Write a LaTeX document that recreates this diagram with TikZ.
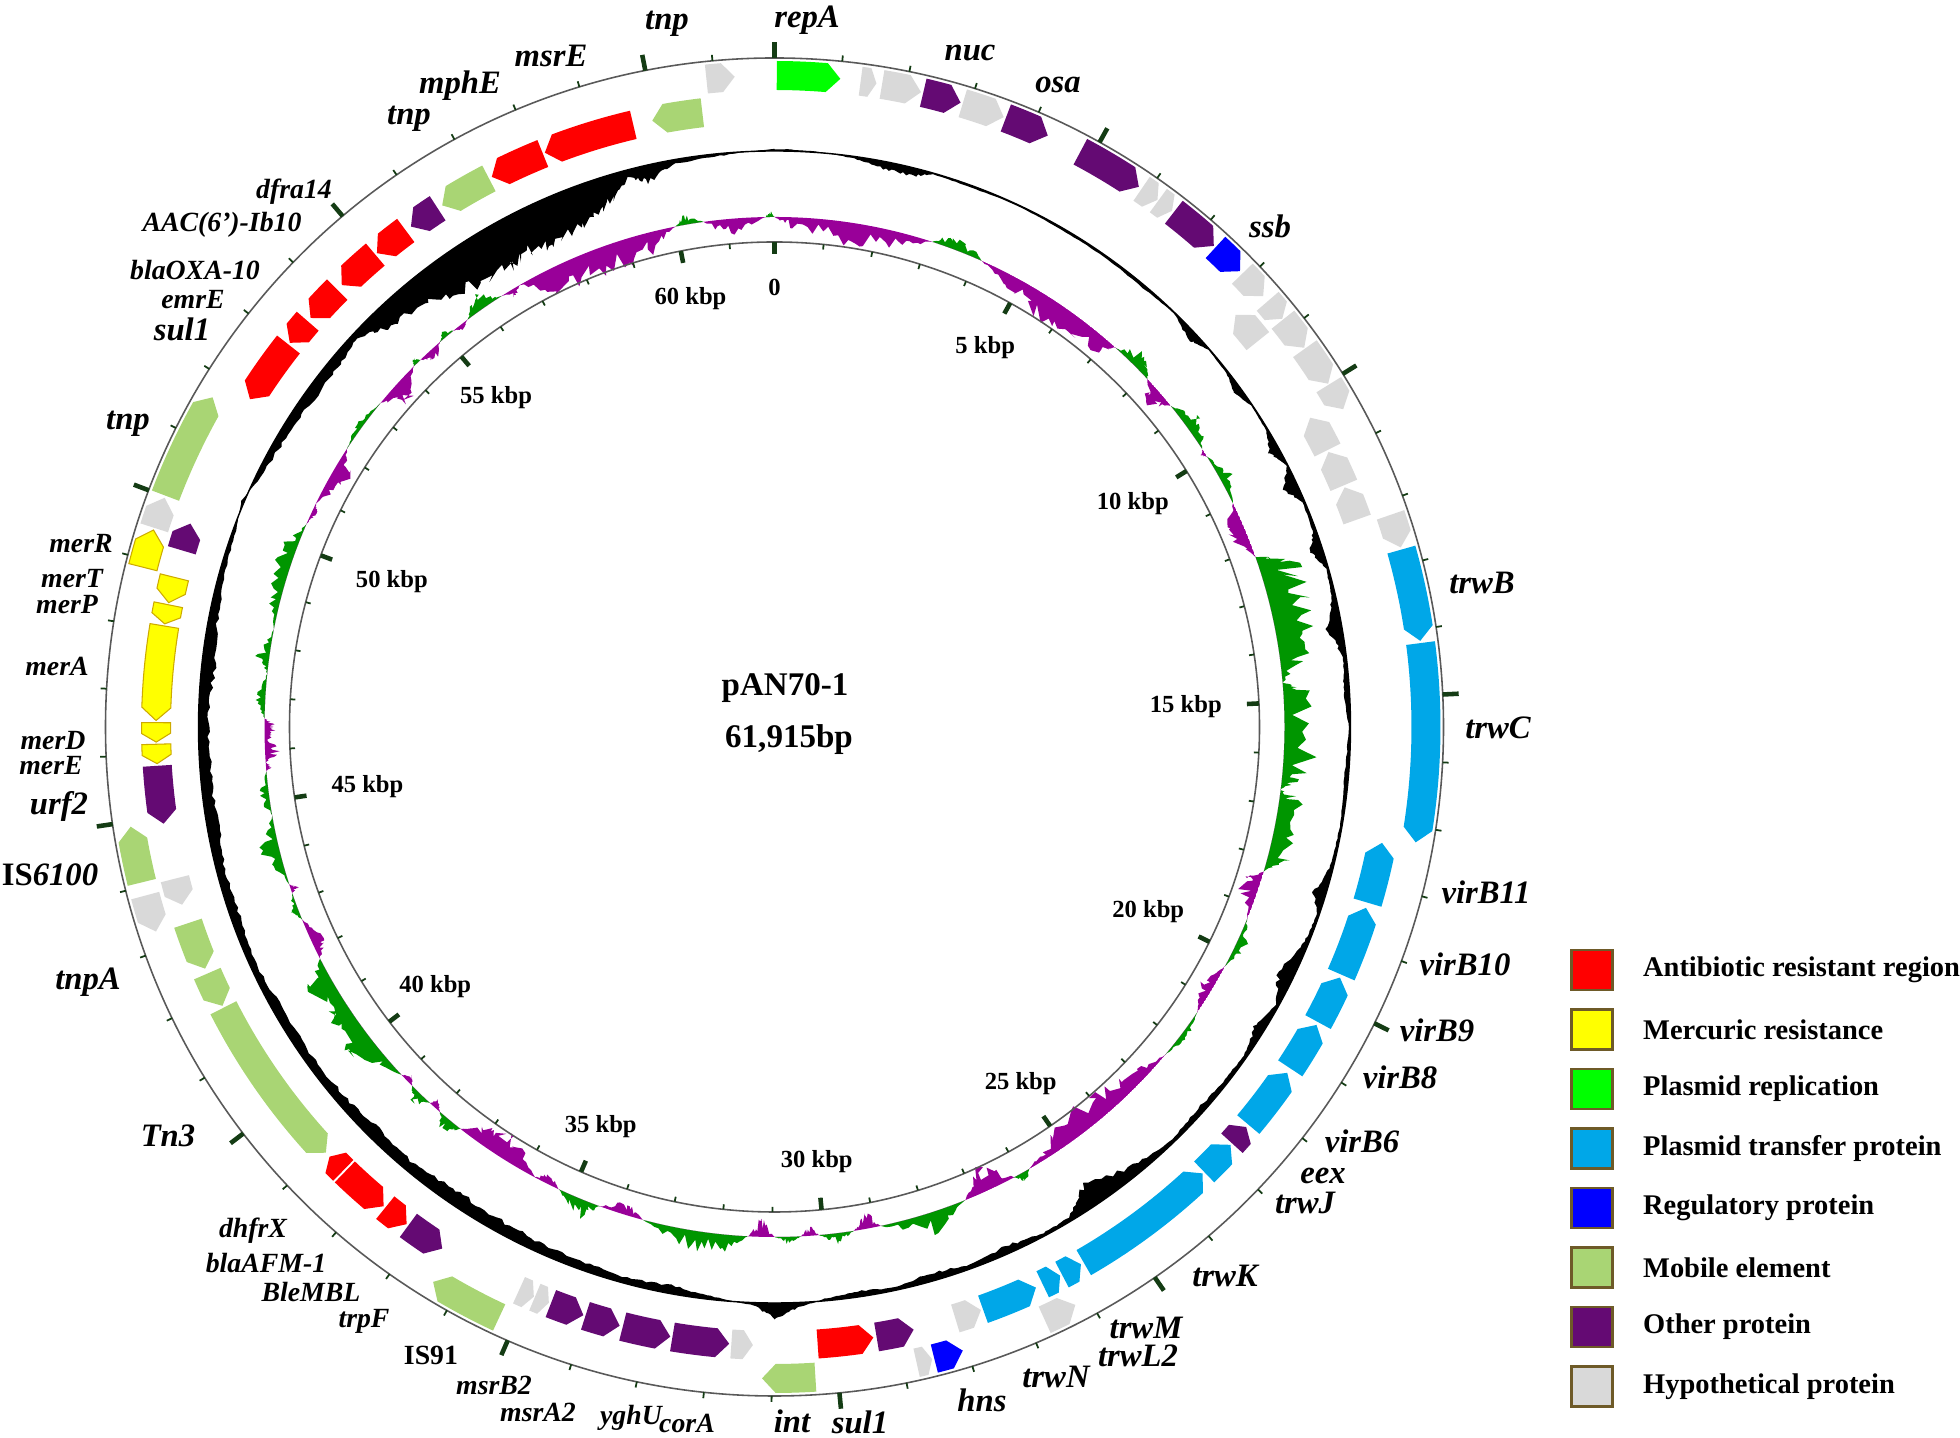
\documentclass[tikz,border=0pt]{standalone}
\usepackage{fontspec}
\setmainfont{Liberation Serif}
\usetikzlibrary{positioning}
\definecolor{cAntib}{RGB}{255,0,0}
\definecolor{cMerc}{RGB}{255,255,0}
\definecolor{cMercBd}{RGB}{205,170,0}
\definecolor{cRepl}{RGB}{0,255,0}
\definecolor{cTrans}{RGB}{0,167,232}
\definecolor{cRegu}{RGB}{0,0,255}
\definecolor{cMobile}{RGB}{169,213,116}
\definecolor{cOther}{RGB}{100,10,115}
\definecolor{cHypo}{RGB}{217,217,217}
\definecolor{cSkewP}{RGB}{0,150,0}
\definecolor{cSkewN}{RGB}{153,0,153}
\definecolor{cTick}{RGB}{20,60,20}
\definecolor{cLegBd}{RGB}{110,90,40}
\tikzset{
  glab/.style={inner sep=0pt, font=\fontsize{9.3}{11}\selectfont\bfseries\itshape},
  glabs/.style={inner sep=0pt, font=\fontsize{7.9}{9}\selectfont\bfseries\itshape},
  klab/.style={inner sep=1pt, font=\fontsize{7}{8}\selectfont\bfseries},
  ctitle/.style={inner sep=0pt, font=\fontsize{9.4}{11}\selectfont\bfseries},
  mapline/.style={draw=black!65, line width=0.45pt},
  tickmaj/.style={draw=cTick, line width=1.3pt},
  tickmin/.style={draw=cTick, line width=0.5pt},
  mergene/.style={draw=cMercBd, line width=0.3pt},
  legbox/.style={draw=cLegBd, line width=0.8pt, minimum width=4.1mm, minimum height=4mm, inner sep=0pt},
  legtxt/.style={inner sep=0pt, font=\fontsize{8.1}{9}\selectfont\bfseries}
}
\newcommand{\lenbp}{61.915}
\newcommand{\laneO}{6.37}
\newcommand{\laneI}{6.04}
% gene arrow: [extra]{start}{end}{lane radius}{dir}{colour}, angles clockwise from 0 bp
\newcommand{\gene}[6][]{%
  \pgfmathsetmacro\ggA{90-#2}%
  \pgfmathsetmacro\ggB{90-#3}%
  \pgfmathsetmacro\ggH{min(1.2,0.45*(#3-#2))}%
  \pgfmathsetmacro\ggM{#4+0.145}%
  \pgfmathsetmacro\ggT{#4+0.29}%
  \ifnum#5>0
    \pgfmathsetmacro\ggC{\ggB+\ggH}%
    \fill[fill=#6,#1] (\ggA:#4) arc[start angle=\ggA, end angle=\ggC, radius=#4]
      -- (\ggB:\ggM) -- (\ggC:\ggT) arc[start angle=\ggC, end angle=\ggA, radius=\ggT] -- cycle;
  \else
    \pgfmathsetmacro\ggC{\ggA-\ggH}%
    \fill[fill=#6,#1] (\ggC:#4) arc[start angle=\ggC, end angle=\ggB, radius=#4]
      -- (\ggB:\ggT) arc[start angle=\ggB, end angle=\ggC, radius=\ggT] -- (\ggA:\ggM) -- cycle;
  \fi}
% profile ring: {baseline}{angle/value list}{noise spread}
\newcommand{\ringpath}[3]{(90:#1)
  \foreach \pa/\pv [remember=\pa as \pap (initially 0), remember=\pv as \pvp (initially 0)] in #2 {
    \foreach \k in {1,...,10} {
      -- ({90-(\pap+((\pa)-(\pap))*\k/10)}:{#1+(\pvp+((\pv)-(\pvp))*\k/10)*(1-#3/2+#3*rnd)/100})
    }
  } -- cycle}
\newcommand{\skewdata}{0/0, 2/-8, 8/-15, 14/-12, 18/0, 20/10, 23/6, 24/0, 28/-12, 34/-20, 40/-14, 42/0, 45/14, 47/0, 49/-16, 51/0, 54/14, 57/0, 57.5/-4, 58/0, 61/10, 64/0, 67/-18, 70.5/0, 72/28, 77/30, 82/22, 85/0, 86/18, 95/22, 97/0, 98/16, 104/18, 106.5/0, 108/-16, 112/0, 115/8, 118/0, 121/-10, 124/0, 127/6, 130/0, 134/-12, 140/-20, 146/-14, 150/0, 151/8, 152/0, 155/-22, 158/0, 162/18, 168/0, 169.5/-12, 171/0, 173/8, 175/0, 176/-8, 177/0, 178.5/5, 180/0, 181.5/-14, 183/0, 186/15, 190/12, 195/0, 197/-10, 200/0, 202/14, 205/0, 206.5/-8, 208/0, 212/-20, 215/-16, 218/0, 219.5/12, 221/0, 222/-6, 222.5/0, 224/10, 225.3/0, 226/-6, 227/0, 232/22, 236/18, 240/20, 243/0, 245/-12, 247.8/0, 249/6, 251/0, 251.5/-6, 252/0, 256/15, 260/0, 262/8, 265/0, 265.5/-5, 266/0, 267/-10, 269/-4, 270/-10, 271/0, 273/8, 276/0, 278/10, 281/0, 285/10, 290/12, 293.5/0, 295/-4, 296/0, 300/-15, 303/0, 306/5, 309.5/0, 312/-18, 315/0, 315.5/6, 316/0, 317.5/-8, 319/0, 320/5, 321/0, 322/-4, 323/0, 325/12, 327.7/0, 329/-6, 330/0, 334/-22, 340/-20, 345/-18, 348.8/0, 350/8, 352/0, 355/-15, 359/0, 359.5/5, 360/0}
\newcommand{\gcdata}{0/2, 4/1, 8/-2, 11/-7, 14/-8, 16/-1, 20/-2, 25/-1, 30/-2, 35/-2, 40/-3, 44/-1, 47/-9, 49/-1, 52/-2, 54/-8, 56/-1, 59/-2, 61/-10, 63/-1, 65/-14, 67/-2, 70/-3, 72/-12, 74/-2, 77/-4, 80/-14, 83/-3, 86/-6, 90/-2, 95/-4, 100/-2, 104/-3, 107/-12, 109/-2, 112/-4, 116/-16, 119/-3, 122/-10, 125/-3, 128/-4, 132/-6, 136/-3, 140/-8, 146/-22, 149/-4, 152/-3, 156/-8, 160/-4, 164/-8, 168/-3, 172/-6, 175/-2, 178/6, 180/14, 182/3, 186/-3, 190/-8, 195/-6, 200/-8, 205/-10, 210/-12, 215/-14, 220/-10, 225/-12, 230/-9, 235/-8, 240/-10, 245/-6, 250/-9, 255/-8, 260/-11, 265/-12, 270/-10, 275/-13, 280/-10, 285/-6, 290/-3, 293/3, 296/-5, 300/-8, 305/-11, 310/-10, 313/-6, 316/-20, 320/-28, 325/-40, 330/-46, 333/-40, 336/-44, 340/-36, 343/-24, 345/-8, 347/-16, 350/-4, 355/-2, 360/2}

\begin{document}
\begin{tikzpicture}
\useasboundingbox (0,0) rectangle (19.6,14.38);
\pgfmathsetseed{11}
\coordinate (ori) at (7.745,7.11);
\begin{scope}[shift={(ori)}]
  % GC skew
  \begin{scope}
    \clip (0,0) circle (5.60) (5.10,0) arc[start angle=0, end angle=-360, radius=5.10];
    \fill[cSkewP] \ringpath{5.10}{\skewdata}{1.2};
  \end{scope}
  \begin{scope}
    \clip (0,0) circle (5.10);
    \fill[cSkewN, even odd rule] \ringpath{5.10}{\skewdata}{1.2} (0,0) circle (5.10);
  \end{scope}
  % GC content
  \fill[black, even odd rule] \ringpath{5.76}{\gcdata}{0.4} (0,0) circle (5.76);
  \draw[black, line width=0.4pt] (0,0) circle (5.76);
  \draw[mapline] (0,0) circle (6.69);
  \draw[mapline] (0,0) circle (4.85);
  % genes, outer lane
  \foreach \gA/\gB/\gD/\gC in {0.2/5.8/1/cRepl, 7.6/9.0/1/cHypo, 9.5/13.0/1/cHypo, 13.2/16.6/1/cOther,
      16.8/20.6/1/cHypo, 20.8/24.8/1/cOther, 28.0/34.0/1/cOther, 34.3/36.0/1/cHypo, 36.1/37.6/1/cHypo,
      37.8/42.4/1/cOther, 42.6/45.6/1/cRegu, 45.9/48.6/1/cHypo, 49.2/51.2/1/cHypo, 51.3/54.4/1/cHypo,
      54.5/58.2/1/cHypo, 58.3/60.8/1/cHypo, 71.0/74.0/1/cHypo, 74.2/82.4/1/cTrans, 82.6/100.2/1/cTrans,
      152.5/155.5/-1/cHypo, 163.2/165.8/-1/cRegu, 166.0/167.4/-1/cHypo, 176.4/181.1/1/cMobile,
      205.0/211.6/1/cMobile, 251.7/255.0/-1/cHypo, 256.2/261.2/1/cMobile, 287.8/290.6/1/cHypo,
      290.8/300.4/1/cMobile, 354.0/356.5/1/cHypo}
    {\gene{\gA}{\gB}{\laneO}{\gD}{\gC}}
  % genes, inner lane
  \foreach \gA/\gB/\gD/\gC in {48.2/51.4/-1/cHypo, 60.0/63.4/-1/cHypo, 63.6/67.0/-1/cHypo, 67.2/70.4/-1/cHypo,
      100.8/106.5/-1/cTrans, 107.0/113.6/-1/cTrans, 113.9/118.5/-1/cTrans, 118.8/123.5/-1/cTrans,
      124.0/130.0/-1/cTrans, 130.3/132.3/-1/cOther, 132.5/136.0/-1/cTrans, 136.2/150.0/-1/cTrans,
      150.3/152.3/-1/cTrans, 152.5/154.3/-1/cTrans, 155.0/160.3/-1/cTrans, 160.5/163.0/-1/cHypo,
      167.0/170.5/-1/cOther, 170.8/176.0/-1/cAntib, 182.0/184.0/-1/cHypo, 184.2/189.5/-1/cOther,
      189.7/194.2/-1/cOther, 194.5/197.8/-1/cOther, 198.0/201.2/-1/cOther, 201.4/202.8/-1/cHypo,
      202.9/204.4/-1/cHypo, 212.5/216.3/-1/cOther, 216.5/219.0/-1/cAntib, 219.2/224.0/-1/cAntib,
      224.2/226.0/1/cAntib, 226.5/243.0/-1/cMobile, 243.2/246.5/-1/cMobile, 247.0/251.5/-1/cMobile,
      253.3/255.8/-1/cHypo, 261.0/266.4/-1/cOther, 286.6/289.2/1/cOther, 302.0/308.2/-1/cAntib,
      308.4/311.0/-1/cAntib, 311.4/315.0/-1/cAntib, 315.6/319.8/-1/cAntib, 320.0/323.4/-1/cAntib,
      324.0/327.0/-1/cOther, 327.5/332.5/-1/cMobile, 332.8/338.0/-1/cAntib, 338.2/346.8/-1/cAntib,
      348.6/353.3/-1/cMobile}
    {\gene{\gA}{\gB}{\laneI}{\gD}{\gC}}
  % mer operon
  \foreach \gA/\gB in {266.6/268.4, 268.6/270.4, 270.6/279.4, 279.6/281.4, 281.6/284.0}
    {\gene[mergene]{\gA}{\gB}{\laneI}{-1}{cMerc}}
  \gene[mergene]{284.2}{287.6}{\laneO}{1}{cMerc}
  % ticks
  \foreach \k [evaluate=\k as \ang using 90-\k/\lenbp*360] in {0,...,61} {
    \draw[tickmin] (\ang:6.69) -- (\ang:6.75);
    \draw[tickmin] (\ang:4.85) -- (\ang:4.80);
  }
  \foreach \k/\kt [evaluate=\k as \ang using 90-\k/\lenbp*360, count=\i] in {0/0, 5/5 kbp, 10/10 kbp,
      15/15 kbp, 20/20 kbp, 25/25 kbp, 30/30 kbp, 35/35 kbp, 40/40 kbp, 45/45 kbp, 50/50 kbp, 55/55 kbp, 60/60 kbp} {
    \draw[tickmaj] (\ang:6.69) -- (\ang:6.85);
    \draw[tickmaj] (\ang:4.85) -- (\ang:4.73);
    \node[klab, anchor=\ang] (kb\i) at (\ang:4.52) {\kt};
  }
\end{scope}
\node[ctitle] (pname) at (7.85,7.50) {pAN70-1};
\node[ctitle] (psize) at (7.89,6.98) {61,915bp};
% gene names
\foreach \x/\y/\gT [count=\i] in {8.07/14.18/repA, 6.67/14.14/tnp, 5.51/13.82/msrE, 4.60/13.52/mphE,
    4.09/13.19/tnp, 9.70/13.85/nuc, 10.58/13.53/osa, 12.70/12.12/ssb, 14.82/8.55/trwB, 14.98/7.10/trwC,
    14.86/5.46/virB11, 14.65/4.74/virB10, 14.37/4.08/virB9, 14.00/3.61/virB8, 13.62/2.97/virB6,
    13.23/2.62/eex, 13.05/2.35/trwJ, 12.25/1.62/trwK, 11.46/1.10/trwM, 11.38/0.82/trwL2, 10.56/0.61/trwN,
    9.82/0.38/hns, 8.60/0.16/sul1, 7.92/0.17/int,
    1.68/3.02/Tn3, 0.88/4.56/tnpA, 0.50/5.63/{{\upshape IS}6100}, 0.59/6.32/urf2, 1.28/10.14/tnp, 1.82/11.09/sul1}
  \node[glab] (gl\i) at (\x,\y) {\gT};
\foreach \x/\y/\gT [count=\i] in {6.87/0.15/corA, 6.31/0.20/yghU, 5.38/0.26/msrA2, 4.94/0.53/msrB2,
    3.64/1.17/trpF, 3.11/1.46/BleMBL, 2.66/1.75/blaAFM-1, 2.53/2.07/dhfrX, 0.51/6.72/merE, 0.53/6.97/merD,
    0.57/7.72/merA, 0.67/8.33/merP, 0.72/8.59/merT, 0.81/8.94/merR, 1.93/11.38/emrE,
    1.95/11.68/blaOXA-10, 2.22/12.13/AAC(6')-Ib10, 2.94/12.46/dfra14}
  \node[glabs] (gs\i) at (\x,\y) {\gT};
\node[glabs, font=\fontsize{7.9}{9}\selectfont\bfseries] (is91) at (4.31,0.83) {IS91};
% legend
\foreach \col/\txt [count=\i from 0] in {cAntib/Antibiotic resistant region, cMerc/Mercuric resistance,
    cRepl/Plasmid replication, cTrans/Plasmid transfer protein, cRegu/Regulatory protein,
    cMobile/Mobile element, cOther/Other protein, cHypo/Hypothetical protein} {
  \node[legbox, fill=\col] (lb\i) at (15.92,{4.68-0.595*\i}) {};
  \node[legtxt, right=2.85mm of lb\i] (lt\i) {\txt};
}
\end{tikzpicture}
\end{document}
